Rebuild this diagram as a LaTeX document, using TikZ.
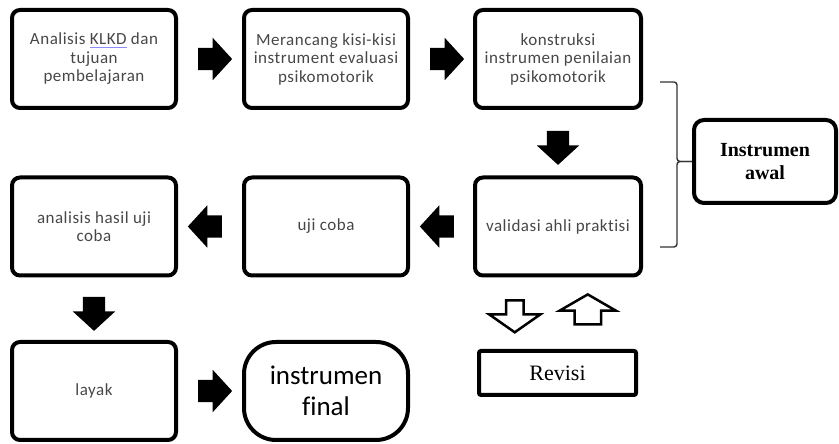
\documentclass[tikz,border=0pt]{standalone}
\usepackage{fontspec}
\setmainfont[LetterSpace=3,Ligatures=NoCommon]{Carlito}
\newfontfamily\besarfont[Ligatures=NoCommon]{Carlito}
\newfontfamily\judulfont{Liberation Serif}
\usepackage{tikz}
\usetikzlibrary{arrows.meta,positioning,calc,shapes.arrows}
\usepackage{xcolor}

% light spell-check line under a word
\newcommand\garisbiru[1]{\setbox0\hbox{#1}\rlap{\color{blue!45}\rule[-3pt]{\wd0}{1.3pt}}\box0\relax}

\begin{document}
\begin{tikzpicture}[>=Stealth, x=1pt, y=1pt,
    kotak/.style={draw, line width=4pt, rounded corners=8pt, minimum width=164pt,
                  minimum height=98pt, align=center, text=black!72,
                  font=\fontsize{17}{18.5}\selectfont},
    panah/.style={single arrow, fill=black, inner xsep=0pt, inner ysep=11pt,
                  minimum height=34pt, single arrow head extend=10pt,
                  single arrow tip angle=95},
    panahkosong/.style={single arrow, draw, fill=white, line width=2.5pt, inner xsep=0pt}]
  \useasboundingbox (0,0) rectangle (839,444);
  % Row 1
  \node[kotak] (analisis) at (94,385) {Analisis \garisbiru{KLKD} dan\\tujuan\\pembelajaran};
  \node[kotak] (rancang) at (326,385) {Merancang kisi-kisi\\instrument evaluasi\\psikomotorik};
  \node[kotak, minimum width=166pt] (konstruksi) at (558,385)
    {konstruksi\\instrumen penilaian\\psikomotorik};
  % Row 2
  \node[kotak] (hasil) at (94,217.5) {analisis hasil uji\\coba};
  \node[kotak] (ujicoba) at (326,217.5) {uji coba};
  \node[kotak, minimum width=166pt] (validasi) at (558,217.5) {validasi ahli praktisi};
  % Row 3
  \node[kotak] (layak) at (94,53) {layak};
  \node[kotak, rounded corners=32pt, text=black,
        font=\besarfont\fontsize{27}{31}\selectfont] (final) at (326,53) {instrumen\\final};
  \node[draw, line width=4pt, rounded corners=10pt, minimum width=142pt,
        minimum height=83pt, align=center,
        font=\judulfont\bfseries\fontsize{20}{23}\selectfont] (awal) at (765,282.5)
    {Instrumen\\awal};
  \node[draw, line width=4pt, rounded corners=2pt, minimum width=157pt,
        minimum height=44pt, font=\judulfont\fontsize{22}{24}\selectfont]
    (revisi) at (557.5,71) {Revisi};
  % Block arrows
  \foreach \a/\b/\r in {analisis/rancang/0, rancang/konstruksi/0, konstruksi/validasi/-90,
                        validasi/ujicoba/180, ujicoba/hasil/180, hasil/layak/-90,
                        layak/final/0}
    \node[panah, rotate=\r] at ($(\a)!0.5!(\b)$) {};
  % Revisi arrows
  \coordinate (tengah) at ($(validasi.south)!0.5!(revisi.north)$);
  \node[panahkosong, rotate=-90, minimum height=32pt, inner ysep=7.5pt,
        single arrow head extend=17pt, single arrow tip angle=110]
    at ([xshift=-43pt]tengah) {};
  \node[panahkosong, rotate=90, minimum height=30pt, inner ysep=12pt,
        single arrow head extend=15pt, single arrow tip angle=120]
    at ([xshift=30pt]tengah) {};
  % Brace
  \coordinate (atas) at (660,362);
  \coordinate (bawah) at (660,197);
  \draw[line width=1.4pt, black!80, rounded corners=3pt] (atas) -- ++(17,0) |- (awal.west);
  \draw[line width=1.4pt, black!80, rounded corners=3pt] (bawah) -- ++(17,0) |- (awal.west);
\end{tikzpicture}
\end{document}
